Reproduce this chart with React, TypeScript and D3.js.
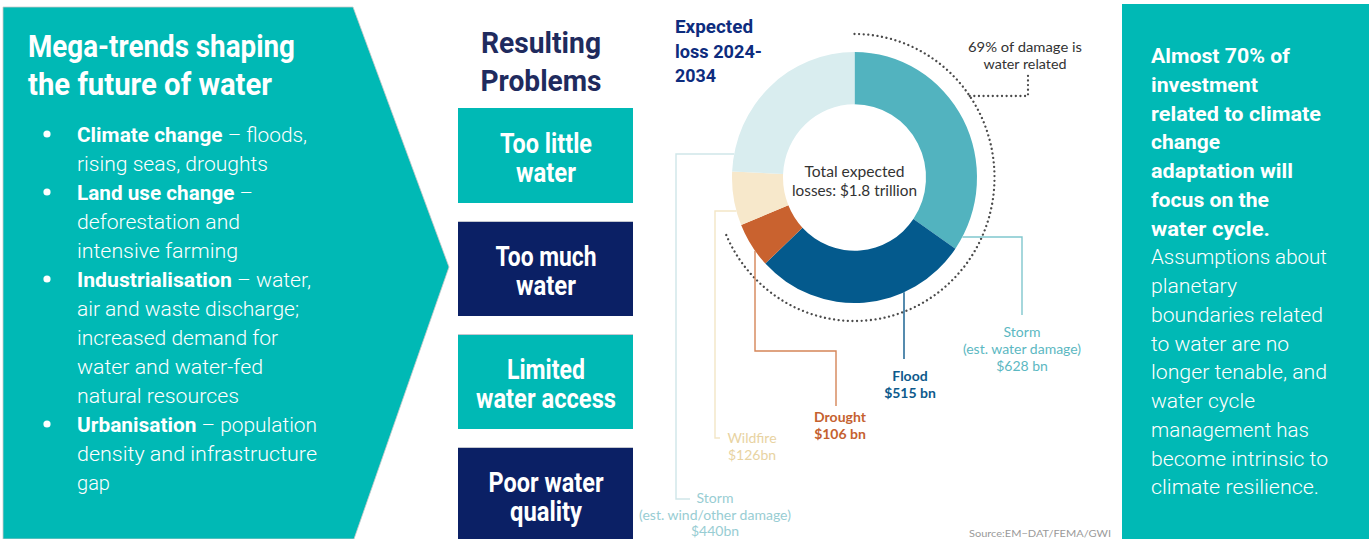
import React from "react";
import * as d3 from "d3";

// ---------------- DATA ----------------
const megaTrendsTitle = ["Mega-trends shaping", "the future of water"];
const megaTrends = [
  { head: "Climate change", tail: " – floods,", rest: ["rising seas, droughts"] },
  { head: "Land use change", tail: " –", rest: ["deforestation and", "intensive farming"] },
  {
    head: "Industrialisation",
    tail: " – water,",
    rest: ["air and waste discharge;", "increased demand for", "water and water-fed", "natural resources"],
  },
  { head: "Urbanisation", tail: " – population", rest: ["density and infrastructure", "gap"] },
];

const problemsTitle = ["Resulting", "Problems"];
const problems = [
  ["Too little", "water"],
  ["Too much", "water"],
  ["Limited", "water access"],
  ["Poor water", "quality"],
];

const chartTitle = ["Expected", "loss 2024-", "2034"];
const lossCategories = ["Storm (est. water damage)", "Flood", "Drought", "Wildfire", "Storm (est. wind/other damage)"];
const lossValuesBn = [628, 515, 106, 126, 440];
const lossLabelLines = [
  ["Storm", "(est. water damage)", "$628 bn"],
  ["Flood", "$515 bn"],
  ["Drought", "$106 bn"],
  ["Wildfire", "$126bn"],
  ["Storm", "(est. wind/other damage)", "$440bn"],
];
const waterRelated = ["Storm (est. water damage)", "Flood", "Drought"];
const waterShareLabel = ["69% of damage is", "water related"];
const totalLabel = ["Total expected", "losses: $1.8 trillion"];
const sourceLabel = "Source:EM\u2212DAT/FEMA/GWI";

const takeawayBold = [
  "Almost 70% of",
  "investment",
  "related to climate",
  "change",
  "adaptation will",
  "focus on the",
  "water cycle.",
];
const takeawayRegular = [
  "Assumptions about",
  "planetary",
  "boundaries related",
  "to water are no",
  "longer tenable, and",
  "water cycle",
  "management has",
  "become intrinsic to",
  "climate resilience.",
];

// ---------------- STYLE / LAYOUT ----------------
const W = 1369;
const H = 539;
const TEAL = "#00b9b5";
const NAVY = "#0b2065";
const HEAD_FONT = "Roboto, 'Noto Sans', sans-serif";
const CHART_FONT = "Lato, 'Noto Sans', sans-serif";

const sliceColors = ["#52b3bf", "#045a8d", "#c9622f", "#f7e8cb", "#d9edef"];
const leaderColors = ["#80c7ce", "#0d5a8c", "#d58558", "#f3e6c6", "#cfe6e9"];
const labelColors = ["#5cb8c2", "#0d5a8c", "#c5612f", "#e8d3a2", "#98cdd3"];
const labelWeights = [400, 700, 700, 400, 400];

const leftWidths = [230, 191, 176, 163, 161, 234, 222, 201, 186, 162, 240, 240, 33];
const rightWidths = [139, 107, 170, 69, 142, 118, 119, 176, 86, 172, 138, 176, 104, 158, 177, 168];
const boxTextWidths = [
  [92, 60],
  [101, 60],
  [78, 140],
  [115, 72],
];

type TProps = {
  x: number;
  y: number;
  w?: number;
  anchor?: string;
  size: number;
  weight?: number;
  fill: string;
  family?: string;
  children: React.ReactNode;
};

function T({ x, y, w, anchor = "start", size, weight = 400, fill, family = HEAD_FONT, children }: TProps) {
  return (
    <text
      x={x}
      y={y}
      textAnchor={anchor}
      fontSize={size}
      fontWeight={weight}
      fill={fill}
      fontFamily={family}
      {...(w ? { textLength: w, lengthAdjust: "spacingAndGlyphs" } : {})}
    >
      {children}
    </text>
  );
}

function LeftPanel() {
  const lines: { bullet: boolean; head?: string; tail?: string; text?: string }[] = [];
  megaTrends.forEach((m) => {
    lines.push({ bullet: true, head: m.head, tail: m.tail });
    m.rest.forEach((r) => lines.push({ bullet: false, text: r }));
  });
  const base = 142;
  const step = 29;
  return (
    <g>
      <polygon points="3,7 353,7 449,267 354,539 3,539" fill={TEAL} stroke="#c9c9c9" strokeWidth={0.8} />
      <T x={28} y={57} w={267} size={31} weight={700} fill="#fff">
        {megaTrendsTitle[0]}
      </T>
      <T x={28} y={95} w={244} size={31} weight={700} fill="#fff">
        {megaTrendsTitle[1]}
      </T>
      {lines.map((l, i) => (
        <g key={i}>
          {l.bullet && <circle cx={47} cy={base + i * step - 8} r={3.6} fill="#fff" />}
          <T x={77} y={base + i * step} w={leftWidths[i]} size={21} weight={300} fill="#fff">
            {l.bullet ? (
              <>
                <tspan fontWeight={700}>{l.head}</tspan>
                <tspan>{l.tail}</tspan>
              </>
            ) : (
              l.text
            )}
          </T>
        </g>
      ))}
    </g>
  );
}

function MiddlePanel() {
  const boxTops = [108, 221, 334, 447];
  return (
    <g>
      <T x={541} y={53} w={120} anchor="middle" size={30} weight={700} fill="#1f2b5e">
        {problemsTitle[0]}
      </T>
      <T x={541} y={91} w={121} anchor="middle" size={30} weight={700} fill="#1f2b5e">
        {problemsTitle[1]}
      </T>
      {problems.map((p, i) => {
        const top = boxTops[i];
        const h = i === 3 ? H - top : 95;
        return (
          <g key={i}>
            <rect x={458} y={top} width={175} height={h} fill={i % 2 === 0 ? TEAL : NAVY} />
            {i > 0 && <line x1={458} x2={633} y1={top + 0.5} y2={top + 0.5} stroke="#c4c7cf" strokeWidth={1} />}
            <T x={546} y={top + 45} w={boxTextWidths[i][0]} anchor="middle" size={27} weight={700} fill="#fff">
              {p[0]}
            </T>
            <T x={546} y={top + 74} w={boxTextWidths[i][1]} anchor="middle" size={27} weight={700} fill="#fff">
              {p[1]}
            </T>
          </g>
        );
      })}
    </g>
  );
}

function Donut() {
  const cx = 854.5;
  const cy = 177.5;
  const sy = 1.025;
  const rIn = 71.5;
  const rOut = 122.5;
  const rDot = 140;

  const pie = d3
    .pie<number>()
    .sort(null)
    .value((d) => d);
  const arcs = pie(lossValuesBn);
  const arcGen = d3.arc<d3.PieArcDatum<number>>().innerRadius(rIn).outerRadius(rOut);

  const total = d3.sum(lossValuesBn);
  const waterSum = d3.sum(lossCategories.map((c, i) => (waterRelated.includes(c) ? lossValuesBn[i] : 0)));
  const share = waterSum / total;

  const dotPath = d3.path();
  dotPath.arc(0, 0, rDot, -Math.PI / 2, -Math.PI / 2 + share * 2 * Math.PI);

  // screen-space helpers on the (slightly stretched) donut
  const edgeAtY = (y: number, side: number) => {
    const dy = (y - cy) / sy;
    return cx + side * Math.sqrt(rOut * rOut - dy * dy);
  };
  const edgeAtX = (x: number) => {
    const dx = x - cx;
    return cy + sy * Math.sqrt(rOut * rOut - dx * dx);
  };
  const dotAngle = Math.acos((cy - 96) / (rDot * sy));
  const dotPt = [cx + rDot * Math.sin(dotAngle), 96];

  const leaders = [
    `M${edgeAtY(237, 1)},237 H1022 V315`,
    `M904,${edgeAtX(904)} V359`,
    `M755,${edgeAtX(755)} V351 H836 V406`,
    `M${edgeAtY(211, -1)},211 H715 V438 H720`,
    `M${edgeAtY(154, -1)},154 H676 V499 H690`,
  ];
  const labelPos = [
    { x: 1022, y: [337, 354, 371], anchor: "middle" },
    { x: 910, y: [381, 398], anchor: "middle" },
    { x: 840, y: [422, 439], anchor: "middle" },
    { x: 752, y: [443, 460], anchor: "middle" },
    { x: 715, y: [503, 520, 536], anchor: "middle" },
  ];

  return (
    <g>
      {chartTitle.map((t, i) => (
        <T key={i} x={675} y={33 + i * 24.5} w={[78, 87, 41][i]} size={19} weight={700} fill="#0d2c7e">
          {t}
        </T>
      ))}
      <g transform={`translate(${cx},${cy}) scale(1,${sy})`}>
        {arcs.map((a, i) => (
          <path key={i} d={arcGen(a) || ""} fill={sliceColors[i]} />
        ))}
        <path
          d={dotPath.toString()}
          fill="none"
          stroke="#4a4a4a"
          strokeWidth={2.3}
          strokeDasharray="0.01 4.6"
          strokeLinecap="round"
          vectorEffect="non-scaling-stroke"
        />
      </g>
      <path
        d={`M${dotPt[0]},${dotPt[1]} H1028 V75`}
        fill="none"
        stroke="#4a4a4a"
        strokeWidth={2.3}
        strokeDasharray="0.01 4.6"
        strokeLinecap="round"
      />
      <T x={1025} y={52} w={114} anchor="middle" size={13.5} fill="#333" family={CHART_FONT}>
        {waterShareLabel[0]}
      </T>
      <T x={1025} y={69} w={83} anchor="middle" size={13.5} fill="#333" family={CHART_FONT}>
        {waterShareLabel[1]}
      </T>
      <T x={854.5} y={177} w={100} anchor="middle" size={15.5} fill="#333" family={CHART_FONT}>
        {totalLabel[0]}
      </T>
      <T x={854.5} y={196} w={125} anchor="middle" size={15.5} fill="#333" family={CHART_FONT}>
        {totalLabel[1]}
      </T>
      {leaders.map((d, i) => (
        <path key={i} d={d} fill="none" stroke={leaderColors[i]} strokeWidth={1.4} />
      ))}
      {lossLabelLines.map((lines, i) =>
        lines.map((t, j) => (
          <T
            key={`${i}-${j}`}
            x={labelPos[i].x}
            y={labelPos[i].y[j]}
            anchor={labelPos[i].anchor}
            size={14}
            weight={labelWeights[i]}
            fill={labelColors[i]}
            family={CHART_FONT}
          >
            {t}
          </T>
        ))
      )}
      <T x={969} y={537} w={142} size={10} fill="#9a9a9a" family={CHART_FONT}>
        {sourceLabel}
      </T>
    </g>
  );
}

function RightPanel() {
  const lines = [
    ...takeawayBold.map((t) => ({ t, bold: true })),
    ...takeawayRegular.map((t) => ({ t, bold: false })),
  ];
  return (
    <g>
      <rect x={1122} y={4} width={W - 1122} height={H - 4} fill={TEAL} />
      {lines.map((l, i) => (
        <T
          key={i}
          x={1151}
          y={63 + i * 28.75}
          w={rightWidths[i]}
          size={21}
          weight={l.bold ? 700 : 300}
          fill="#fff"
        >
          {l.t}
        </T>
      ))}
    </g>
  );
}

export default function App() {
  return (
    <svg
      width={W}
      height={H}
      viewBox={`0 0 ${W} ${H}`}
      style={{ position: "absolute", left: 0, top: 0, display: "block", background: "#fff" }}
    >
      <rect x={0} y={0} width={W} height={H} fill="#fff" />
      <LeftPanel />
      <MiddlePanel />
      <Donut />
      <RightPanel />
    </svg>
  );
}
